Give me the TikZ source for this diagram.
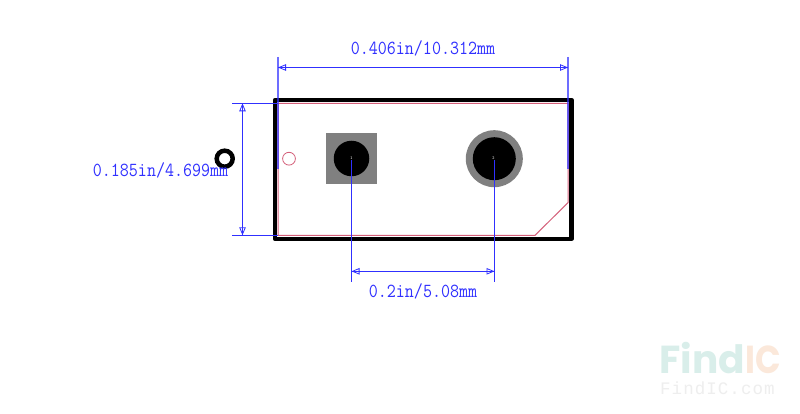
\documentclass[tikz,border=0pt]{standalone}
\usepackage{fontspec}
\usetikzlibrary{arrows.meta}
\newfontfamily\logofont{Poppins}
\newfontfamily\logomono[LetterSpace=6]{Liberation Mono}
\definecolor{dimblue}{HTML}{3030FF}
\definecolor{silk}{HTML}{D4607A}
\definecolor{padgrey}{HTML}{808080}
\definecolor{logoteal}{HTML}{D9EEEA}
\definecolor{logoorange}{HTML}{FBE8DA}
\definecolor{logogrey}{HTML}{EEEEEE}
\tikzset{
  x=1pt,y=-1pt,
  outline/.style={draw=black,line width=4.5pt,line join=round},
  silkline/.style={draw=silk,line width=1pt},
  dimline/.style={draw=dimblue,line width=1pt},
  extline/.style={draw=dimblue,line width=1.1pt,opacity=0.7},
  dimtips/.style={draw=dimblue,line width=0.8pt,{Triangle[open,length=8pt,width=6.5pt]}-{Triangle[open,length=8pt,width=6.5pt]}},
  dimtext/.style={text=dimblue,inner sep=0pt,transform shape,yscale=1.14,font=\ttfamily\fontsize{17.5}{20}\selectfont},
  padno/.style={text=white,inner sep=0pt,font=\sffamily\fontsize{4}{4}\selectfont},
}
\begin{document}
\begin{tikzpicture}
\useasboundingbox (0,0) rectangle (800,414);
\fill[white] (0,0) rectangle (800,414);
% watermark
\node[anchor=base west,inner sep=0pt,text=logoteal,font=\logofont\bfseries\fontsize{39}{39}\selectfont] (wmfind) at (659,373) {Find};
\node[anchor=base west,inner sep=0pt,text=logoorange,transform shape,xscale=0.86,font=\logofont\bfseries\fontsize{39}{39}\selectfont] (wmic) at (745,373) {IC};
\node[anchor=base west,inner sep=0pt,text=logogrey,font=\logomono\fontsize{17.5}{17.5}\selectfont] (wmcom) at (660,394) {FindIC.com};
% silkscreen
\draw[silkline] (278,103.3) -- (568,103.3) -- (568,202.7) -- (535,235.3) -- (278,235.3) -- cycle;
\node[circle,draw=silk,line width=0.8pt,minimum size=12.8pt,inner sep=0pt] (pinone) at (289,158.7) {};
% board outline
\draw[outline] (275,100) rectangle (571.5,238.8);
% ring marker
\node[circle,draw=black,line width=4.5pt,minimum size=16pt,inner sep=0pt] (ring) at (224.7,158.7) {};
% pads
\node[rectangle,fill=padgrey,minimum size=51pt,inner sep=0pt] (padA) at (351.5,158.5) {};
\node[circle,fill=black,minimum size=35.5pt,inner sep=0pt] (holeA) at (351.5,158.5) {};
\node[circle,fill=padgrey,minimum size=57pt,inner sep=0pt] (padB) at (494.3,158.7) {};
\node[circle,fill=black,minimum size=43pt,inner sep=0pt] (holeB) at (494.3,158.7) {};
\node[padno] (noA) at (351.5,158.5) {1};
\node[padno] (noB) at (493.5,158.5) {2};
% dimension coordinates
\coordinate (tl0) at (278,57); \coordinate (tl1) at (278,169);
\coordinate (tr0) at (568,57); \coordinate (tr1) at (568,169);
\coordinate (ta) at (278,67.5); \coordinate (tb) at (568,67.5);
\coordinate (lt0) at (232,103.3); \coordinate (lt1) at (278,103.3);
\coordinate (lb0) at (232,235.3); \coordinate (lb1) at (278,235.3);
\coordinate (la) at (242.5,103.3); \coordinate (lb) at (242.5,235.3);
\coordinate (ba0) at (351.5,160); \coordinate (ba1) at (351.5,281.7);
\coordinate (bb0) at (494.5,160); \coordinate (bb1) at (494.5,281.7);
\coordinate (ba) at (351.5,271.3); \coordinate (bb) at (494.5,271.3);
% extension lines
\draw[extline] (tl0) -- (tl1);
\draw[extline] (tr0) -- (tr1);
\draw[dimline] (lt0) -- (lt1);
\draw[dimline] (lb0) -- (lb1);
\draw[dimline] (ba0) -- (ba1);
\draw[dimline] (bb0) -- (bb1);
% dimension lines
\draw[dimline] (ta) -- (tb);
\draw[dimtips] (ta) -- (tb);
\draw[dimline] (la) -- (lb);
\draw[dimtips] (la) -- (lb);
\draw[dimline] (ba) -- (bb);
\draw[dimtips] (ba) -- (bb);
% labels
\node[dimtext] (tlabel) at (423,48) {0.406in/10.312mm};
\node[dimtext] (llabel) at (160.5,170) {0.185in/4.699mm};
\node[dimtext] (blabel) at (423,291) {0.2in/5.08mm};
\end{tikzpicture}
\end{document}
